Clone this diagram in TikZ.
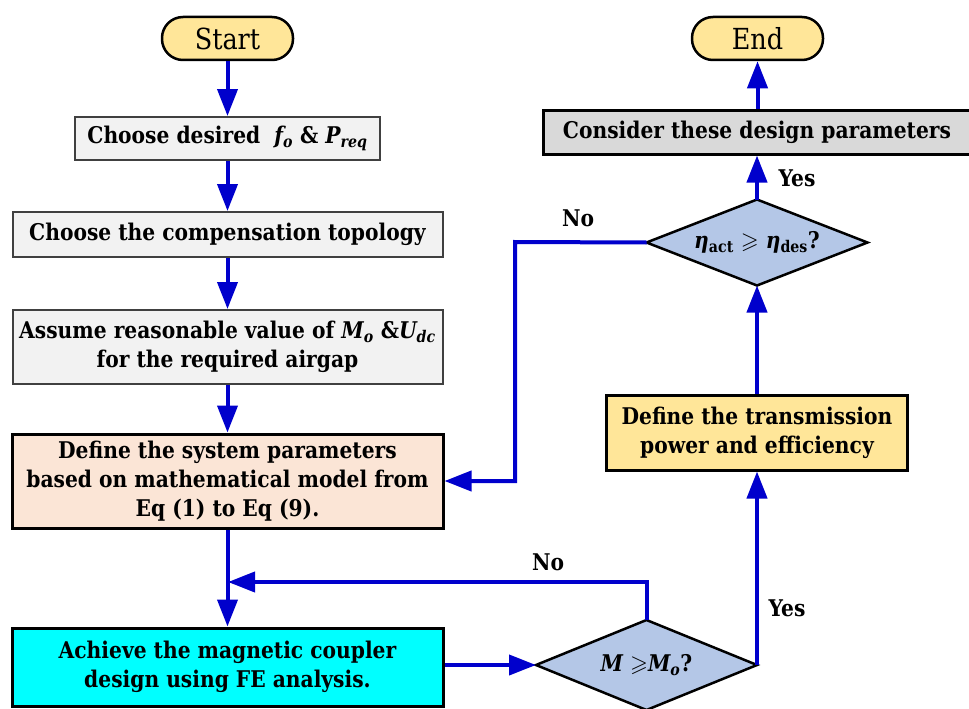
\documentclass[tikz,border=0pt]{standalone}
\usepackage{amssymb}
\usepackage{fontspec}
\setmainfont{DejaVu Serif}[FakeStretch=0.88]
\usetikzlibrary{shapes.geometric,arrows.meta}

\definecolor{flowblue}{HTML}{0000CC}
\definecolor{termfill}{HTML}{FFE699}
\definecolor{lightgray}{HTML}{F2F2F2}
\definecolor{midgray}{HTML}{D9D9D9}
\definecolor{peach}{HTML}{FBE5D6}
\definecolor{decfill}{HTML}{B4C7E7}
\definecolor{aqua}{HTML}{00FFFF}

\tikzset{
  terminal/.style={draw=black, line width=2.5pt, fill=termfill, rounded corners=21pt,
    minimum width=131pt, minimum height=43pt, inner sep=0pt,
    font=\fontsize{29}{34}\selectfont},
  graybox/.style={draw=black!75, line width=2pt, fill=lightgray, inner sep=0pt,
    align=center, font=\fontsize{23}{29}\selectfont\bfseries},
  blackbox/.style={draw=black, line width=3pt, inner sep=0pt,
    align=center, font=\fontsize{23}{29}\selectfont\bfseries},
  decision/.style={draw=black, line width=2.5pt, fill=decfill, shape=diamond,
    aspect=2.5, inner sep=0pt, outer sep=0pt,
    font=\fontsize{23}{29}\selectfont\bfseries},
  arr/.style={draw=flowblue, line width=4pt,
    -{Triangle[length=27pt,width=20pt]}},
  lbl/.style={inner sep=0pt, font=\fontsize{23}{26}\selectfont\bfseries},
}

\begin{document}
\begin{tikzpicture}[x=1pt,y=-1pt]
  \useasboundingbox (0,0) rectangle (969,709);

  % left column
  \node[terminal] (start) at (227.5,38.5) {Start};
  \node[graybox, minimum width=305pt, minimum height=43pt] (b1) at (227.5,138.5)
    {Choose desired \ {\itshape f\textsubscript{o}} \& {\itshape P\textsubscript{req}}};
  \node[graybox, minimum width=430pt, minimum height=45pt] (b2) at (227.5,234.5)
    {Choose the compensation topology};
  \node[graybox, minimum width=430pt, minimum height=74pt] (b3) at (227.5,347)
    {Assume reasonable value of {\itshape M\textsubscript{o}} \&{\itshape U\textsubscript{dc}}\\for the required airgap};
  \node[blackbox, fill=peach, minimum width=431pt, minimum height=94pt] (b4) at (227.5,481)
    {Define the system parameters\\based on mathematical model from\\Eq (1) to Eq (9).};
  \node[blackbox, fill=aqua, minimum width=431pt, minimum height=78pt] (b5) at (227.5,667)
    {Achieve the magnetic coupler\\design using FE analysis.};

  % right column
  \node[decision, minimum width=221pt, minimum height=90pt] (d1) at (646.5,665)
    {{\itshape M} $\geqslant${\itshape M\textsubscript{o}}?};
  \node[blackbox, fill=termfill, minimum width=301pt, minimum height=75pt] (b6) at (757,432.5)
    {Define the transmission\\power and efficiency};
  \node[decision, minimum width=221pt, minimum height=86pt] (d2) at (757,242.5)
    {{\itshape η}\textsubscript{act} $\geqslant$ {\itshape η}\textsubscript{des}?};
  \node[blackbox, fill=midgray, minimum width=428pt, minimum height=44pt] (b7) at (757,132)
    {Consider these design parameters};
  \node[terminal] (end) at (757.5,38.5) {End};

  % turning points of the loops
  \coordinate (j) at (228,582);
  \coordinate (k) at (515,242);

  % connectors
  \draw[arr] (start) -- (b1);
  \draw[arr] (b1) -- (b2);
  \draw[arr] (b2) -- (b3);
  \draw[arr] (b3) -- (b4);
  \draw[arr] (b4) -- (b5);
  \draw[arr] (d1.north) |- (j);
  \draw[arr] (b5.east |- d1.west) -- (d1.west);
  \draw[arr] (d1.east) -- (b6.south);
  \draw[arr] (b6) -- (d2);
  \draw[arr] (d2) -- (b7);
  \draw[arr] (b7.north -| end) -- (end);
  \draw[arr] (d2.west) -- (k) |- (b4.east);

  % branch labels
  \node[lbl] (no1) at (578,218) {No};
  \node[lbl] (yes1) at (797,178) {Yes};
  \node[lbl] (no2) at (548,562) {No};
  \node[lbl] (yes2) at (787,608) {Yes};
\end{tikzpicture}
\end{document}
